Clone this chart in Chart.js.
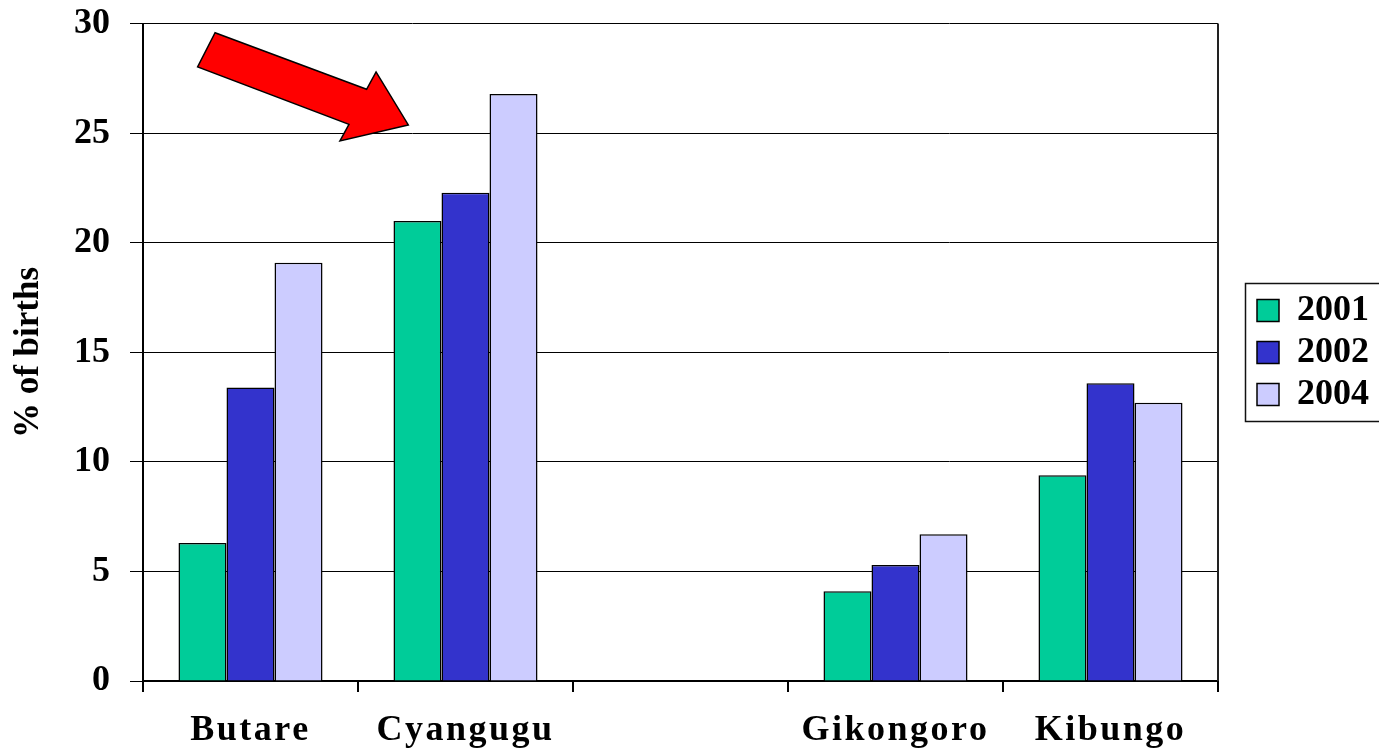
<!DOCTYPE html>
<html><head><meta charset="utf-8">
<script src="https://cdn.jsdelivr.net/npm/chart.js@4/dist/chart.umd.min.js"></script>
<style>html,body{margin:0;padding:0;background:#fff;} #wrap{width:1379px;height:752px;}</style>
</head><body><div id="wrap"><canvas id="c" width="1379" height="752"></canvas></div>
<script>
const categories = ['Butare', 'Cyangugu', '', 'Gikongoro', 'Kibungo'];
const seriesNames = ['2001', '2002', '2004'];
const values2001 = [6.3, 21.0, null, 4.1, 9.4];
const values2002 = [13.4, 22.3, null, 5.3, 13.6];
const values2004 = [19.1, 26.8, null, 6.7, 12.7];
const yTickValues = [0, 5, 10, 15, 20, 25, 30];
const yTitle = '% of births';
// red arrow annotation outline, in data units (x: category index, y: value)
const arrowX = [-0.165, -0.246, 0.458, 0.416, 0.734, 0.584, 0.540];
const arrowY = [29.6, 28.04, 25.42, 24.66, 25.39, 27.81, 27.02];

const colors = ['#00CC99', '#3333CC', '#CCCCFF'];
const SERIF = "'Times New Roman','Liberation Serif',serif";

const decor = {
  id: 'decor',
  beforeDraw(chart) {
    const xs = chart.scales.x;
    if (xs && !xs._lsPatched) {
      const orig = xs.drawLabels;
      xs.drawLabels = function (area) {
        const ctx = this.ctx;
        ctx.save();
        ctx.letterSpacing = '2.5px';
        orig.call(this, area);
        ctx.restore();
      };
      xs._lsPatched = true;
    }
  },
  afterDraw(chart) {
    const { ctx, chartArea: a, scales: { x, y } } = chart;
    ctx.save();
    // right frame line
    ctx.strokeStyle = '#222';
    ctx.lineWidth = 2;
    ctx.beginPath();
    ctx.moveTo(a.right, a.top - 0.5);
    ctx.lineTo(a.right, a.bottom);
    ctx.stroke();
    // arrow
    ctx.beginPath();
    arrowX.forEach((v, i) => {
      const px = x.getPixelForValue(v), py = y.getPixelForValue(arrowY[i]);
      if (i) ctx.lineTo(px, py); else ctx.moveTo(px, py);
    });
    ctx.closePath();
    ctx.fillStyle = '#FF0000';
    ctx.fill();
    ctx.lineWidth = 1.5;
    ctx.strokeStyle = '#000';
    ctx.lineJoin = 'miter';
    ctx.stroke();
    // legend frame
    const hb = chart.legend && chart.legend.legendHitBoxes;
    if (hb && hb.length) {
      const first = hb[0], last = hb[hb.length - 1];
      const l = first.left - 12, t = first.top - 9.5, b = last.top + last.height + 8.5;
      ctx.lineWidth = 1.5;
      ctx.strokeStyle = '#111';
      ctx.strokeRect(Math.round(l) + 0.5, Math.round(t) + 0.5, chart.width + 10 - l, Math.round(b - t));
    }
    ctx.restore();
  }
};

new Chart(document.getElementById('c'), {
  type: 'bar',
  data: {
    labels: categories,
    datasets: [values2001, values2002, values2004].map((d, i) => ({
      label: seriesNames[i],
      data: d,
      backgroundColor: colors[i],
      borderColor: '#000',
      borderWidth: 1.5,
      categoryPercentage: 0.67,
      barPercentage: 1.0
    }))
  },
  options: {
    responsive: false,
    animation: false,
    layout: { padding: { top: 0, left: 0, right: 0, bottom: 0 } },
    plugins: {
      tooltip: { enabled: false },
      legend: {
        position: 'right',
        fullSize: false,
        labels: {
          boxWidth: 22, boxHeight: 22, padding: 6, color: '#000',
          font: { family: SERIF, size: 36, weight: 'bold', lineHeight: 1 }
        }
      }
    },
    scales: {
      x: {
        offset: true,
        grid: { display: true, drawOnChartArea: false, drawTicks: true, tickLength: 11, offset: true, color: '#000', lineWidth: 2 },
        border: { color: '#000', width: 2 },
        ticks: { color: '#000', padding: 21, maxRotation: 0, autoSkip: false,
          font: { family: SERIF, size: 36, weight: 'bold', lineHeight: 1 } },
        afterFit(s) { s.height = 71; }
      },
      y: {
        min: 0, max: 30,
        afterBuildTicks(s) { s.ticks = yTickValues.map(v => ({ value: v })); },
        ticks: { color: '#000', padding: 20, font: { family: SERIF, size: 36, weight: 'bold', lineHeight: 0.222 } },
        grid: { color: '#000', lineWidth: 1, tickLength: 13, drawTicks: true },
        border: { color: '#000', width: 2 },
        title: { display: true, text: yTitle, color: '#000', padding: { top: 8, bottom: 0 },
          font: { family: SERIF, size: 35, weight: 'bold' } },
        afterFit(s) { s.width = 143; }
      },
      yR: {
        position: 'right', display: true,
        grid: { display: false }, ticks: { display: false }, border: { display: false },
        afterFit(s) { s.width = 33; }
      }
    }
  },
  plugins: [decor]
});
</script>
</body></html>
